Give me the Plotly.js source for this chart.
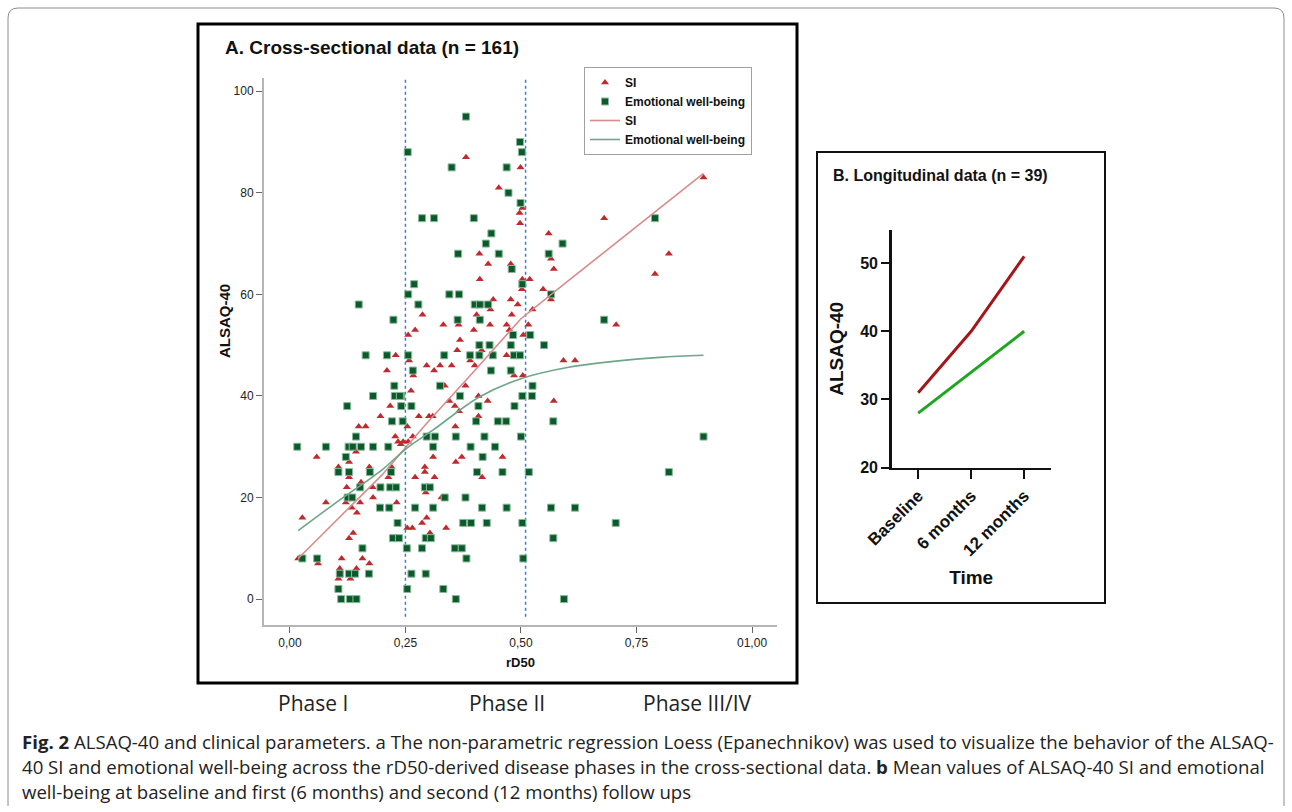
<!DOCTYPE html>
<html>
<head>
<meta charset="utf-8">
<script src="https://cdn.plot.ly/plotly-3.0.1.min.js"></script>
<style>html,body{margin:0;padding:0;background:#fff;}#chart{width:1292px;height:812px;}</style>
</head>
<body>
<div id="chart"></div>
<script>
// ---------- Panel A: cross-sectional data ----------
const siX = [0.895,0.68,0.56,0.565,0.571,0.82,0.79,0.519,0.548,0.565,0.525,0.516,0.706,0.592,0.617,0.571,0.505,0.504,
  0.381,0.499,0.452,0.503,0.497,0.498,0.41,0.429,0.478,0.411,0.503,0.502,0.44,0.478,0.421,0.493,0.434,0.404,0.287,0.48,
  0.332,0.365,0.433,0.469,0.398,0.475,0.271,0.256,0.368,0.362,0.415,0.469,0.39,0.258,0.296,0.325,0.35,0.4,0.312,0.267,
  0.485,0.335,0.38,0.262,0.408,0.345,0.428,0.357,0.366,0.301,0.309,0.279,0.408,0.358,
  0.254,0.266,0.245,0.256,0.31,0.372,0.359,0.46,0.292,0.292,0.271,0.313,0.416,0.294,0.328,0.296,0.286,0.254,0.265,0.338,0.303,
  0.229,0.21,0.217,0.196,0.149,0.164,0.228,0.234,0.24,0.143,0.058,0.128,0.105,0.172,0.128,0.154,0.213,0.22,0.123,0.179,
  0.078,0.121,0.134,0.152,0.18,0.231,0.145,0.027,0.137,0.128,0.018,0.061,0.112,0.157,0.172,0.108,0.144,0.105,0.131];
const siY = [83,75,72,67,65,68,64,63,61,59,57,54,54,47,47,39,52,44,
  87,85,81,77,76,74,68,66,66,63,63,61,59,59,58,58,57,56,56,56,
  54,54,54,54,53,53,53,52,51,49,49,48,47,47,46,46,46,46,45,44,
  44,42,42,41,40,39,39,38,37,36,36,36,36,34,
  34,32,31,31,28,28,27,28,26,25,24,24,24,21,20,16,15,14,14,14,13,
  48,45,38,36,34,34,32,31,30.5,29,28,27,26,26,24,23,24,26,22,22,
  19,19,18,19,20,19,17,16,13,12,8,7,8,8,7,6,6,4,4];

const ewbX = [0.79,0.59,0.56,0.565,0.68,0.52,0.55,0.525,0.524,0.57,0.895,0.517,0.82,0.565,0.617,0.705,0.57,0.593,0.503,0.50,0.503,0.505,
  0.381,0.498,0.255,0.502,0.35,0.469,0.473,0.499,0.286,0.312,0.398,0.436,0.424,0.364,0.452,0.48,0.269,0.256,0.503,0.345,0.366,
  0.278,0.40,0.411,0.429,0.363,0.411,0.256,0.334,0.39,0.41,0.439,0.485,0.498,0.41,0.432,0.478,0.483,0.266,0.435,0.478,0.325,
  0.368,0.241,0.241,0.263,0.408,0.486,0.403,0.45,0.468,0.244,
  0.296,0.314,0.359,0.421,0.31,0.391,0.444,0.417,0.405,0.46,0.292,0.303,0.335,0.38,0.271,0.31,0.416,0.469,0.375,0.392,0.426,
  0.294,0.305,0.253,0.286,0.357,0.372,0.382,0.263,0.294,0.254,0.332,0.359,
  0.149,0.224,0.164,0.21,0.226,0.18,0.227,0.238,0.124,0.221,0.143,0.016,0.078,0.127,0.136,0.154,0.18,0.213,0.121,0.105,0.128,
  0.173,0.219,0.152,0.196,0.217,0.23,0.125,0.135,0.195,0.215,0.233,0.223,0.236,0.157,0.027,0.059,0.108,0.128,0.141,0.171,
  0.105,0.111,0.13,0.144];
const ewbY = [75,70,68,60,55,52,50,42,40,35,32,25,25,18,18,15,12,0,40,32,15,8,
  95,90,88,88,85,85,80,78,75,75,75,72,70,68,68,65,62,60,62,60,60,
  58,58,58,58,55,55,48,48,48,48,48,48,48,50,50,50,52,45,45,45,42,
  40,40,38,38,38,38,35,35,35,35,
  32,32,32,32,30,30,30,28,25,25,22,22,20,20,18,18,18,18,15,15,15,
  12,12,10,10,10,10,8,5,5,2,2,0,
  58,55,48,48,42,40,40,40,38,35,32,30,30,30,30,30,30,30,28,25,25,
  25,25,22,22,22,22,20,20,18,18,15,12,12,10,8,8,5,5,5,5,
  2,0,0,0];

// Loess (Epanechnikov) fit lines
const loessX   = [0.018,0.1,0.2,0.25,0.3,0.4,0.5,0.6,0.7,0.8,0.895];
const loessSI  = [8,15.5,24.5,29.8,35,45,55.2,62.5,69.7,77,83.8];
const loessEwbX = [0.018,0.1,0.2,0.25,0.31,0.41,0.5,0.6,0.7,0.8,0.895];
const loessEWB = [13.5,19,25.5,29.5,33.3,39.8,43.4,45.6,46.8,47.6,48];

const phaseCuts = [0.25, 0.51];
const xTickVals = [0, 0.25, 0.5, 0.75, 1.0];
const xTickText = ['0,00', '0,25', '0,50', '0,75', '01,00'];
const yTickVals = [0, 20, 40, 60, 80, 100];
const phaseNames = ['Phase I', 'Phase II', 'Phase III/IV'];

// ---------- Panel B: longitudinal data ----------
const timePoints = ['Baseline', '6 months', '12 months'];
const longSI  = [31, 40, 51];
const longEWB = [28, 34, 40];

// ---------- helpers (pixel -> paper) ----------
const W = 1292, H = 812;
const px = v => v / W;
const py = v => 1 - v / H;

const fA = 'Liberation Sans, Arial, sans-serif';
const fB = 'Liberation Sans, Arial, sans-serif';
const fCap = 'Open Sans, Noto Sans, sans-serif';

const traces = [
  {x: siX, y: siY, type: 'scatter', mode: 'markers', name: 'SI', xaxis: 'x', yaxis: 'y',
   marker: {symbol: 'triangle-up', size: 7, color: '#bf2a2e', line: {width: 0}}},
  {x: ewbX, y: ewbY, type: 'scatter', mode: 'markers', name: 'Emotional well-being', xaxis: 'x', yaxis: 'y',
   marker: {symbol: 'square', size: 7, color: '#0b5a2c', line: {width: 1, color: '#8bb99a'}}},
  {x: loessX, y: loessSI, type: 'scatter', mode: 'lines', name: 'SI', xaxis: 'x', yaxis: 'y',
   line: {color: '#d98b8b', width: 1.6}},
  {x: loessEwbX, y: loessEWB, type: 'scatter', mode: 'lines', name: 'Emotional well-being', xaxis: 'x', yaxis: 'y',
   line: {color: '#6fa68a', width: 1.6, shape: 'spline'}},
  {x: timePoints, y: longSI, type: 'scatter', mode: 'lines', name: 'SI (longitudinal)', xaxis: 'x2', yaxis: 'y2',
   showlegend: false, line: {color: '#a3161a', width: 3}},
  {x: timePoints, y: longEWB, type: 'scatter', mode: 'lines', name: 'Emotional well-being (longitudinal)', xaxis: 'x2', yaxis: 'y2',
   showlegend: false, line: {color: '#1fa51f', width: 3}}
];

const shapes = [
  // outer figure border
  {type: 'path', xref: 'paper', yref: 'paper',
   path: `M ${px(8)} ${py(806)} L ${px(8)} ${py(18)} Q ${px(8)} ${py(8)} ${px(18)} ${py(8)} L ${px(1274)} ${py(8)} Q ${px(1284)} ${py(8)} ${px(1284)} ${py(18)} L ${px(1284)} ${py(806)}`,
   line: {color: '#8c8c8c', width: 1}},
  // panel A frame
  {type: 'rect', xref: 'paper', yref: 'paper', x0: px(198), x1: px(797), y0: py(683), y1: py(24),
   line: {color: '#000', width: 3}},
  // panel B frame
  {type: 'rect', xref: 'paper', yref: 'paper', x0: px(817), x1: px(1105), y0: py(603), y1: py(152),
   line: {color: '#111', width: 2}}
];
phaseCuts.forEach(c => shapes.push({type: 'line', xref: 'x', yref: 'y', x0: c, x1: c, y0: -3.5, y1: 102.6,
  layer: 'below', line: {color: '#3b7bd0', width: 1.5, dash: '3px,3px'}}));

const capFont = {family: fCap, size: 18.6, color: '#222'};
const annotations = [
  {text: 'A. Cross-sectional data (n = 161)', xref: 'paper', yref: 'paper', x: px(223), y: py(47),
   xanchor: 'left', yanchor: 'middle', showarrow: false, font: {family: fA, size: 19, color: '#111', weight: 'bold'}},
  {text: 'ALSAQ-40', xref: 'paper', yref: 'paper', x: px(224), y: py(321), textangle: -90,
   xanchor: 'center', yanchor: 'middle', showarrow: false, font: {family: fA, size: 15, color: '#111', weight: 'bold'}},
  {text: 'B. Longitudinal data (n = 39)', xref: 'paper', yref: 'paper', x: px(831), y: py(176),
   xanchor: 'left', yanchor: 'middle', showarrow: false, font: {family: fB, size: 16, color: '#111', weight: 'bold'}},
  {text: '<b>Fig. 2</b> ALSAQ-40 and clinical parameters. a The non-parametric regression Loess (Epanechnikov) was used to visualize the behavior of the ALSAQ-',
   xref: 'paper', yref: 'paper', x: px(20), y: py(741), xanchor: 'left', yanchor: 'middle', showarrow: false, font: capFont},
  {text: '40 SI and emotional well-being across the rD50-derived disease phases in the cross-sectional data. <b>b</b> Mean values of ALSAQ-40 SI and emotional',
   xref: 'paper', yref: 'paper', x: px(20), y: py(766), xanchor: 'left', yanchor: 'middle', showarrow: false, font: capFont},
  {text: 'well-being at baseline and first (6 months) and second (12 months) follow ups',
   xref: 'paper', yref: 'paper', x: px(20), y: py(791), xanchor: 'left', yanchor: 'middle', showarrow: false, font: capFont}
];
const phaseCenters = [313, 507, 697];
phaseNames.forEach((n, i) => annotations.push({text: n, xref: 'paper', yref: 'paper', x: px(phaseCenters[i]), y: py(703),
  xanchor: 'center', yanchor: 'middle', showarrow: false, font: {family: fCap, size: 21, color: '#222'}}));

const layout = {
  width: W, height: H,
  margin: {l: 0, r: 0, t: 0, b: 0, pad: 0},
  paper_bgcolor: '#fff', plot_bgcolor: 'rgba(0,0,0,0)',
  showlegend: true,
  legend: {x: px(584), y: py(67), xanchor: 'left', yanchor: 'top', bgcolor: '#fff',
    bordercolor: '#a0a0a0', borderwidth: 1, font: {family: fA, size: 12, color: '#111', weight: 'bold'},
    itemwidth: 30, tracegroupgap: 0},
  xaxis: {domain: [px(264), px(777)], range: [-0.056, 1.054], anchor: 'y',
    tickvals: xTickVals, ticktext: xTickText, ticks: 'outside', ticklen: 6, tickcolor: '#666',
    showline: true, linecolor: '#b5b5b5', linewidth: 2, showgrid: false, zeroline: false,
    tickfont: {family: fA, size: 12, color: '#222'},
    title: {text: 'rD50', font: {family: fA, size: 13, color: '#111', weight: 'bold'}, standoff: 8}},
  yaxis: {domain: [py(625), py(78)], range: [-5.1, 102.6], anchor: 'x',
    tickvals: yTickVals, ticks: 'outside', ticklen: 6, tickcolor: '#666',
    showline: true, linecolor: '#b5b5b5', linewidth: 2, showgrid: false, zeroline: false,
    tickfont: {family: fA, size: 12, color: '#222'}},
  xaxis2: {domain: [px(891.7), px(1050.7)], range: [-0.5, 2.5], anchor: 'y2', type: 'category',
    ticks: 'outside', ticklen: 9, tickwidth: 2, tickcolor: '#111', tickangle: -45,
    showline: true, linecolor: '#111', linewidth: 2.5, showgrid: false, zeroline: false,
    tickfont: {family: fB, size: 17, color: '#111', weight: 'bold'},
    title: {text: 'Time', font: {family: fB, size: 19, color: '#111', weight: 'bold'}, standoff: 12}},
  yaxis2: {domain: [py(467.7), py(230)], range: [20, 54.85], anchor: 'x2',
    tickvals: [20, 30, 40, 50], ticks: 'outside', ticklen: 8, tickwidth: 2, tickcolor: '#111',
    showline: true, linecolor: '#111', linewidth: 2.5, showgrid: false, zeroline: false,
    tickfont: {family: fB, size: 16, color: '#111', weight: 'bold'},
    title: {text: 'ALSAQ-40', font: {family: fB, size: 19, color: '#111', weight: 'bold'}, standoff: 12}},
  shapes: shapes,
  annotations: annotations
};

Plotly.newPlot('chart', traces, layout, {staticPlot: true, displayModeBar: false});
</script>
</body>
</html>
